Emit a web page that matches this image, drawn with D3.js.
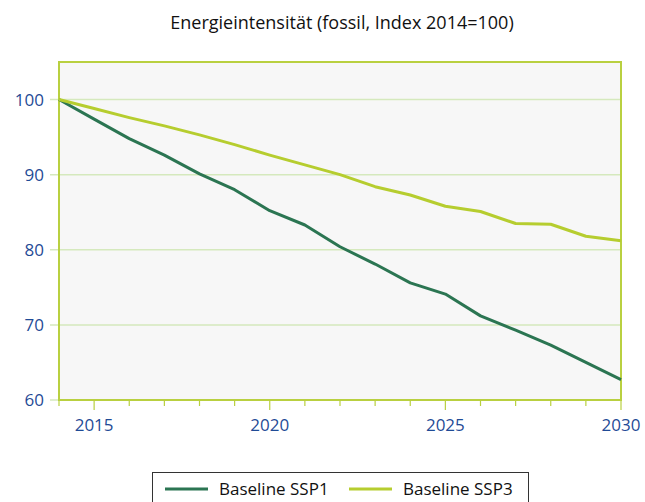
<!DOCTYPE html>
<html>
<head>
<meta charset="utf-8">
<script src="https://cdn.jsdelivr.net/npm/d3@7"></script>
<style>
  body { margin: 0; background: #fff; }
  svg text { font-family: "Open Sans", "Noto Sans", sans-serif; }
</style>
</head>
<body>
<div id="chart"></div>
<script>
// data
var years = [2014, 2015, 2016, 2017, 2018, 2019, 2020, 2021, 2022, 2023, 2024, 2025, 2026, 2027, 2028, 2029, 2030];
var ssp1 = [100, 97.4, 94.8, 92.6, 90.1, 88.0, 85.2, 83.3, 80.4, 78.1, 75.6, 74.1, 71.2, 69.3, 67.3, 65.0, 62.7];
var ssp3 = [100, 98.8, 97.6, 96.5, 95.3, 94.0, 92.6, 91.3, 90.0, 88.4, 87.3, 85.8, 85.1, 83.5, 83.4, 81.8, 81.2];
var yTicks = [60, 70, 80, 90, 100];
var xMajor = [2015, 2020, 2025, 2030];
var seriesNames = ["Baseline SSP1", "Baseline SSP3"];
var seriesColors = ["#2b7552", "#b6cd2f"];

var svgWidth = 645;
var svgHeight = 502;
var margin = { top: 62, right: 24, bottom: 102, left: 59 };
var width = svgWidth - margin.left - margin.right;
var height = svgHeight - margin.top - margin.bottom;

var svg = d3.select("#chart").append("svg")
  .attr("width", svgWidth)
  .attr("height", svgHeight);

var chartGroup = svg.append("g")
  .attr("transform", `translate(${margin.left}, ${margin.top})`);

var xScale = d3.scaleLinear().domain([2014, 2030]).range([0, width]);
var yScale = d3.scaleLinear().domain([60, 105]).range([height, 0]);

// plot background
chartGroup.append("rect")
  .attr("width", width)
  .attr("height", height)
  .attr("fill", "#f7f7f7");

// gridlines (extend a bit left as tick marks)
chartGroup.selectAll(".grid")
  .data(yTicks)
  .enter()
  .append("line")
  .attr("x1", -9)
  .attr("x2", width)
  .attr("y1", d => yScale(d))
  .attr("y2", d => yScale(d))
  .attr("stroke", "#d5e9bd")
  .attr("stroke-width", 1.5);

// y labels
chartGroup.selectAll(".ylab")
  .data(yTicks)
  .enter()
  .append("text")
  .attr("x", -15)
  .attr("y", d => yScale(d))
  .attr("dy", "0.35em")
  .attr("text-anchor", "end")
  .attr("font-size", "17px")
  .attr("fill", "#1f4b96")
  .text(d => d);

// x axis ticks: minor every year, major every 5
chartGroup.selectAll(".xtick")
  .data(years)
  .enter()
  .append("line")
  .attr("x1", d => xScale(d))
  .attr("x2", d => xScale(d))
  .attr("y1", height)
  .attr("y2", d => xMajor.indexOf(d) >= 0 ? height + 10 : height + 6)
  .attr("stroke", "#b9d040")
  .attr("stroke-width", 1.2);

chartGroup.selectAll(".xlab")
  .data(xMajor)
  .enter()
  .append("text")
  .attr("x", d => xScale(d))
  .attr("y", height + 25)
  .attr("dy", "0.35em")
  .attr("text-anchor", "middle")
  .attr("font-size", "17px")
  .attr("fill", "#1f4b96")
  .text(d => d);

// plot frame
chartGroup.append("rect")
  .attr("width", width)
  .attr("height", height)
  .attr("fill", "none")
  .attr("stroke", "#b9d040")
  .attr("stroke-width", 2);

// lines
var line = d3.line()
  .x((d, i) => xScale(years[i]))
  .y(d => yScale(d));

[ssp1, ssp3].forEach(function(values, k) {
  chartGroup.append("path")
    .datum(values)
    .attr("d", line)
    .attr("fill", "none")
    .attr("stroke", seriesColors[k])
    .attr("stroke-width", 3)
    .attr("stroke-linejoin", "round");
});

// title
svg.append("text")
  .attr("x", 342)
  .attr("y", 29)
  .attr("text-anchor", "middle")
  .attr("font-size", "18px")
  .attr("fill", "#111")
  .text("Energieintensität (fossil, Index 2014=100)");

// legend
var legend = svg.append("g");
legend.append("rect")
  .attr("x", 152.5)
  .attr("y", 472.5)
  .attr("width", 376)
  .attr("height", 40)
  .attr("fill", "#fff")
  .attr("stroke", "#333")
  .attr("stroke-width", 1);

var legendX = [165, 349];
seriesNames.forEach(function(name, k) {
  legend.append("line")
    .attr("x1", legendX[k])
    .attr("x2", legendX[k] + 43)
    .attr("y1", 489)
    .attr("y2", 489)
    .attr("stroke", seriesColors[k])
    .attr("stroke-width", 3);
  legend.append("text")
    .attr("x", legendX[k] + 54)
    .attr("y", 489)
    .attr("dy", "0.35em")
    .attr("font-size", "17px")
    .attr("fill", "#111")
    .text(name);
});
</script>
</body>
</html>
